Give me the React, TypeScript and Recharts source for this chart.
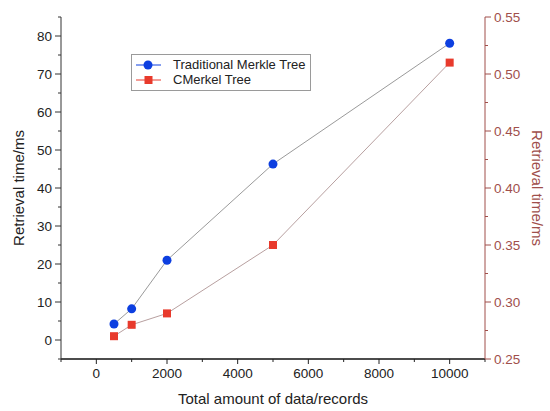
import React from 'react';
import { LineChart, Line, XAxis, YAxis, Legend } from 'recharts';

const records = [500, 1000, 2000, 5000, 10000];
const traditionalMs = [4.2, 8.2, 21, 46.3, 78.1];
const cmerkelMs = [0.27, 0.28, 0.29, 0.35, 0.51];

const xTicks = [-1000, 0, 1000, 2000, 3000, 4000, 5000, 6000, 7000, 8000, 9000, 10000, 11000];
const leftTicks = [-5, 0, 5, 10, 15, 20, 25, 30, 35, 40, 45, 50, 55, 60, 65, 70, 75, 80, 85];
const rightTicks = [0.25, 0.275, 0.3, 0.325, 0.35, 0.375, 0.4, 0.425, 0.45, 0.475, 0.5, 0.525, 0.55];

const data = records.map((x, i) => ({ x, traditional: traditionalMs[i], cmerkel: cmerkelMs[i] }));

const BLUE = '#0d3fe0';
const RED = '#e83a2c';
const BROWN = '#a04f4b';
const FONT = '"Liberation Sans", Arial, sans-serif';

function XTick({ x, y, payload }: any) {
  const major = payload.value % 2000 === 0;
  return (
    <g>
      <line x1={x} x2={x} y1={y} y2={y + (major ? 5 : 3)} stroke="#222" strokeWidth={1} />
      {major && (
        <text x={x} y={y + 19} textAnchor="middle" fontSize={13.5} fill="#222" fontFamily={FONT}>
          {payload.value}
        </text>
      )}
    </g>
  );
}

function LeftTick({ x, y, payload }: any) {
  const major = payload.value % 10 === 0;
  return (
    <g>
      <line x1={x - (major ? 6 : 3)} x2={x} y1={y} y2={y} stroke="#333" strokeWidth={1} />
      {major && (
        <text x={x - 9} y={y} dy="0.36em" textAnchor="end" fontSize={13.5} fill="#222" fontFamily={FONT}>
          {payload.value}
        </text>
      )}
    </g>
  );
}

function RightTick({ x, y, payload }: any) {
  const major = Math.round(payload.value * 1000) % 50 === 0;
  return (
    <g>
      <line x1={x} x2={x + (major ? 6 : 3)} y1={y} y2={y} stroke={BROWN} strokeWidth={1} />
      {major && (
        <text x={x + 9} y={y} dy="0.36em" textAnchor="start" fontSize={13.5} fill={BROWN} fontFamily={FONT}>
          {payload.value.toFixed(2)}
        </text>
      )}
    </g>
  );
}

function SquareDot({ cx, cy, index }: any) {
  return <rect key={index} x={cx - 4} y={cy - 4} width={8} height={8} fill={RED} />;
}

function LegendBox() {
  const row = (label: string, color: string, square: boolean) => (
    <div style={{ display: 'flex', alignItems: 'center', height: 15, whiteSpace: 'nowrap' }}>
      <svg width={36} height={12} style={{ flex: 'none' }}>
        <line x1={4} x2={29} y1={6} y2={6} stroke={color} strokeWidth={1} />
        {square ? <rect x={12.5} y={2} width={8} height={8} fill={RED} /> : <circle cx={16} cy={6} r={4.5} fill={BLUE} />}
      </svg>
      <span style={{ marginLeft: 5 }}>{label}</span>
    </div>
  );
  return (
    <div
      style={{
        border: '1px solid #9a9a9a',
        background: '#fff',
        padding: '2px 0 3px 0',
        fontFamily: FONT,
        fontSize: 13,
        color: '#222',
        lineHeight: '15px',
        width: 180,
        boxSizing: 'border-box',
      }}
    >
      {row('Traditional Merkle Tree', BLUE, false)}
      {row('CMerkel Tree', RED, true)}
    </div>
  );
}

export default function App() {
  return (
    <div style={{ width: 550, height: 411, background: '#fff' }}>
      <style>{'body{margin:0}'}</style>
      <LineChart width={550} height={411} data={data} margin={{ top: 17, right: 0, bottom: 0, left: 0 }}>
        <XAxis
          type="number"
          dataKey="x"
          domain={[-1000, 11000]}
          ticks={xTicks}
          interval={0}
          height={52}
          tickSize={0}
          tickMargin={0}
          tickLine={false}
          tick={<XTick />}
          axisLine={{ stroke: '#111', strokeWidth: 1.5 }}
          label={{
            content: ({ viewBox }: any) => (
              <text
                x={viewBox.x + viewBox.width / 2}
                y={viewBox.y + 45}
                textAnchor="middle"
                fontSize={15}
                fill="#222"
                fontFamily={FONT}
              >
                Total amount of data/records
              </text>
            ),
          }}
        />
        <YAxis
          yAxisId="left"
          orientation="left"
          type="number"
          domain={[-5, 85]}
          ticks={leftTicks}
          interval={0}
          width={61}
          tickSize={0}
          tickMargin={0}
          tickLine={false}
          tick={<LeftTick />}
          axisLine={{ stroke: '#333', strokeWidth: 1 }}
          label={{
            content: ({ viewBox }: any) => {
              const cx = viewBox.x + 18;
              const cy = viewBox.y + viewBox.height / 2;
              return (
                <text
                  x={cx}
                  y={cy}
                  transform={`rotate(-90 ${cx} ${cy})`}
                  textAnchor="middle"
                  dominantBaseline="central"
                  fontSize={15}
                  fill="#222"
                  fontFamily={FONT}
                >
                  Retrieval time/ms
                </text>
              );
            },
          }}
        />
        <YAxis
          yAxisId="right"
          orientation="right"
          type="number"
          domain={[0.25, 0.55]}
          ticks={rightTicks}
          interval={0}
          width={65}
          tickSize={0}
          tickMargin={0}
          tickLine={false}
          tick={<RightTick />}
          axisLine={{ stroke: BROWN, strokeWidth: 1 }}
          label={{
            content: ({ viewBox }: any) => {
              const cx = viewBox.x + 52;
              const cy = viewBox.y + viewBox.height / 2;
              return (
                <text
                  x={cx}
                  y={cy}
                  transform={`rotate(90 ${cx} ${cy})`}
                  textAnchor="middle"
                  dominantBaseline="central"
                  fontSize={15}
                  fill={BROWN}
                  fontFamily={FONT}
                >
                  Retrieval time/ms
                </text>
              );
            },
          }}
        />
        <Legend
          layout="horizontal"
          verticalAlign="middle"
          content={() => <LegendBox />}
          wrapperStyle={{ position: 'absolute', left: 131, top: 54, width: 'auto' }}
        />
        <Line
          yAxisId="left"
          dataKey="traditional"
          name="Traditional Merkle Tree"
          stroke="#9a9a9a"
          strokeWidth={1}
          dot={{ r: 4.5, fill: BLUE, stroke: 'none' }}
          activeDot={false}
          isAnimationActive={false}
        />
        <Line
          yAxisId="right"
          dataKey="cmerkel"
          name="CMerkel Tree"
          stroke="#b8a0a0"
          strokeWidth={1}
          dot={<SquareDot />}
          activeDot={false}
          isAnimationActive={false}
        />
      </LineChart>
    </div>
  );
}
